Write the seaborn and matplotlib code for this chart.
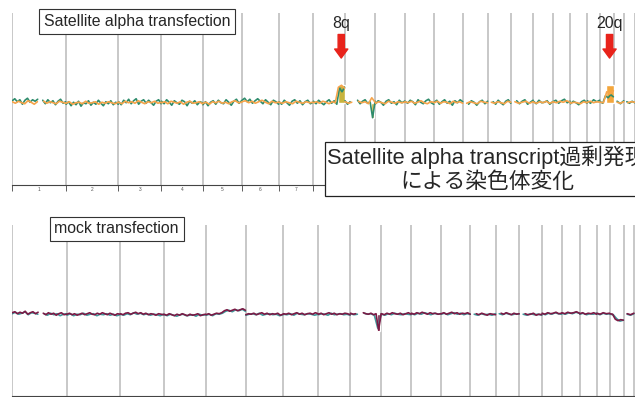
import numpy as np
import pandas as pd
import matplotlib
matplotlib.use('Agg')
import matplotlib.pyplot as plt
import matplotlib.transforms as mtransforms
import seaborn as sns

nan = np.nan

# chromosomes shown along the genome axis (hg19 lengths, Mb)
chrom_names = [str(i) for i in range(1, 23)]
chrom_len_mb = [249, 243, 198, 191, 181, 171, 159, 146, 141, 136, 135, 134,
                115, 107, 103, 90, 81, 78, 59, 63, 48, 51]
# only these labels are visible, the rest sit under the caption box
shown_labels = ['1', '2', '3', '4', '5', '6', '7']

# log2 ratio x100, one list per chromosome (nan = no probes)
sat_green = [
    [4, 8, 2, 6, -3, 5, 9, 1, 6, 3, 7, nan, 5, -2, 6, 0, 4, -4, 3, 7, -1, 2],
    [-3, 2, -6, 1, -4, 3, -7, 0, -2, 4, -5, 1, -3, 5, -1, -6, 2, -2, 4, -4, 1, -3],
    [2, -4, 5, 0, 7, -2, 4, 8, -3, 3, 6, -1, 5, 0, -5, 3, 6, -2],
    [3, -2, 6, 1, -5, 4, 0, -3, 5, 2, -6, 3, -1, 4, -4, 2, 0],
    [-4, 2, -6, 1, 4, -3, 5, 0, -2, 6, 1, -5, 3, 7, -1, 4],
    [5, 9, 2, 7, -1, 4, 8, 3, -2, 6, 1, -4, 5, 2, -3],
    [2, -3, 5, 0, -5, 3, 6, -1, 4, -4, 2, 5, -2, 1],
    [3, -2, 5, 0, -4, 2, 6, -1, 4, -3, 30, 22, 31],
    [4, -3, 2, nan, nan, 5, -2, 3, 6, -1, 2, -30, 3],
    [-2, 4, 1, -5, 3, 6, -1, 2, -4, 5, 0, 3],
    [3, -1, 5, 2, -4, 6, 1, -2, 4, 7, 0, -3],
    [1, 5, -3, 2, 6, -1, 3, -5, 4, 0, 6, 2],
    [nan, nan, -3, 4, 1, -5, 2, 5, -2, 3],
    [nan, nan, 2, -3, 5, 0, -4, 3, 6, -1],
    [nan, nan, 4, -2, 3, 6, -3, 1, 5],
    [3, -2, 5, 0, 1, 4, -3, 2],
    [2, 5, -1, 4, 7, 0, 3],
    [-2, 3, 0, -4, 2, 5, -1],
    [4, -1, 6, 2, 5],
    [2, -1, 14, 10, 16, 12],
    [nan, 3, -2, 4],
    [nan, 2, -1, 3, 0],
]
sat_orange = [
    [2, -1, 3, 0, -2, 4, 1, -3, 2, nan, 3, -1, 2, 0, -2, 3, 1, -1],
    [-1, 2, -3, 0, 1, -2, 3, -1, 0, 2, -3, 1, -1, 2, 0, -2, 1],
    [1, -2, 3, 0, 2, -1, 4, 1, -2, 2, 0, 3, -1, 1],
    [0, 2, -2, 3, 1, -1, 2, -3, 1, 3, -1, 0, 2, -2],
    [-1, 1, -3, 2, 0, 3, -1, 1, -2, 2, 4, 0, 1],
    [2, 4, 0, 3, -1, 2, 5, 1, -2, 3, 0, 1],
    [1, -1, 2, 0, -2, 3, 1, -1, 2, 0, 1],
    [0, 2, -1, 3, 1, -2, 2, 0, 31, 35, 29],
    [2, -1, 1, nan, 3, 0, 2, -2, 10, 1],
    [-1, 2, 0, -2, 3, 1, -1, 2, 0, 1],
    [2, 0, 3, -1, 1, 4, 0, -2, 2, 1],
    [0, 3, -1, 2, 1, -2, 3, 0, 2, -1],
    [nan, -1, 2, 0, -2, 3, 1, 0],
    [nan, 1, -1, 2, 0, -2, 3, 1],
    [nan, 2, -1, 1, 3, -1, 2],
    [1, -1, 2, 0, 3, -1, 1],
    [2, 0, 3, 1, 4, 1],
    [-1, 1, 0, -2, 2, 0],
    [1, 3, 0, 2, 1],
    [1, 0, 22, 18, 24],
    [nan, 1, -1, 2],
    [nan, 0, 2, 1],
]
mock_red = [
    [3, 5, 1, 4, 2, 6, 0, 3, 5, 1, 4, nan, 2, -1, 3, 0, 2, -2, 1, 3, -1, 0],
    [0, 2, -1, 1, -2, 0, 2, -1, 1, 3, 0, -1, 2, 0, 3, 1, -1, 2, 0, -2, 1, 0],
    [1, -1, 2, 3, 0, 2, 4, 1, 3, 0, 2, -1, 1, 0, -2, 1, 0, -1],
    [0, -2, 1, -1, -3, 0, -2, 1, -1, -3, 0, -2, -1, 1, -3, -1, 0],
    [-1, 1, -2, 0, 2, 1, 3, 7, 9, 6, 8, 10, 7, 9, 11, 8],
    [-1, 1, 0, 2, -1, 1, 3, 0, 2, -1, 1, 0, 2, -2, 0],
    [1, 0, 2, -1, 1, 3, 0, 2, -1, 1, 2, 0, 3, 1],
    [0, 2, -1, 1, 3, 0, 2, -1, 1, 0, 2, 1, -1],
    [2, 0, 1, nan, nan, 3, 1, 0, 2, -1, 1, -32, 1],
    [1, -1, 2, 0, 3, 1, 0, 2, -1, 1, 3, 0],
    [2, 0, 3, 1, 4, 2, 0, 3, 1, 2, 0, 1],
    [1, 3, 0, 2, 4, 1, 3, 0, 2, 1, 3, 0],
    [nan, nan, 1, -1, 2, 0, -2, 1, 0, -1],
    [nan, nan, 2, 0, 3, 1, -1, 2, 0, 1],
    [nan, nan, 1, -1, 0, 2, -2, 0, -1],
    [2, 0, 3, 1, 2, 4, 1, 2],
    [3, 1, 4, 2, 3, 5, 2],
    [1, 3, 0, 2, 1, 3, 0],
    [2, 0, 3, 1, 2],
    [1, 0, -10, -13, -11, -12],
    [nan, 1, -1, 2],
    [nan, 0, 2, 1, 0],
]
mock_teal = [
    [1, 4, 0, 2, 5, -1, 3, 2, 0, nan, 1, -2, 2, -1, 1, -3, 0, 1],
    [-2, 1, -3, 0, -1, 2, -2, 0, 1, -3, 0, -1, 1, -2, 0, -3, -1],
    [0, -2, 1, -1, 3, 0, 2, -1, 1, -2, 0, -1, -3, 0],
    [-1, -3, 0, -2, -4, -1, 0, -3, -2, -1, -4, 0, -2, -1],
    [-2, 0, -3, 1, 0, 2, 6, 8, 5, 9, 7, 10, 6],
    [-2, 0, 1, -1, 2, -2, 0, 1, -1, 0, -3, -1],
    [0, -1, 1, -2, 2, 0, -1, 1, 0, -2, 0],
    [-1, 1, 0, -2, 2, -1, 0, 1, -1, 0, -2],
    [1, -1, 0, nan, 2, 0, 1, -2, -28, 0],
    [0, -2, 1, -1, 2, 0, -1, 1, 0, -1],
    [1, -1, 2, 0, 3, 1, -1, 2, 0, 1],
    [0, 2, -1, 1, 3, 0, 2, -1, 1, 0],
    [nan, 0, -2, 1, -1, 0, -2, 1],
    [nan, 1, -1, 2, 0, -1, 1, 0],
    [nan, 0, -2, 1, -1, 0, -2],
    [1, -1, 2, 0, 3, 1, 0],
    [2, 0, 3, 1, 4, 2],
    [0, 2, -1, 1, 0, 2],
    [1, -1, 2, 0, 1],
    [0, -1, -9, -14, -12],
    [nan, 0, -2, 1],
    [nan, -1, 1, 0],
]

# called copy-number segments (chrom, start Mb, end Mb, log2 ratio)
sat_seg_chrom = ['8', '9', '20']
sat_seg_start = [113, 121, 26]
sat_seg_end = [146, 134, 63]
sat_seg_value = [0.36, -0.30, 0.36]
mock_seg_chrom = ['9']
mock_seg_start = [121]
mock_seg_end = [134]
mock_seg_value = [-0.34]

arrow_chrom = ['8', '20']
arrow_label = ['8q', '20q']

chrom_start = np.concatenate([[0], np.cumsum(chrom_len_mb)[:-1]])
chrom_end = np.cumsum(chrom_len_mb)
chrom_mid = chrom_start + np.array(chrom_len_mb) / 2
offset = dict(zip(chrom_names, chrom_start))
mid = dict(zip(chrom_names, chrom_mid))


def to_frame(series):
    rows = []
    seg = 0
    for i, vals in enumerate(series):
        pos = chrom_start[i] + np.linspace(1, chrom_len_mb[i] - 1, len(vals))
        seg += 1
        for p, v in zip(pos, vals):
            if np.isnan(v):
                seg += 1
                continue
            rows.append((p, v / 100, seg))
    return pd.DataFrame(rows, columns=['pos', 'log2', 'seg'])


sns.set_style('white')
plt.rcParams['font.family'] = ['Liberation Sans', 'Noto Sans CJK JP', 'DejaVu Sans']

fig = plt.figure(figsize=(6.35, 3.97), dpi=100)
ax1 = fig.add_axes([12 / 635, 1 - 185 / 397, 623 / 635, 172 / 397])
ax2 = fig.add_axes([12 / 635, 1 - 396 / 397, 623 / 635, 171 / 397])

for ax in (ax1, ax2):
    for s in list(chrom_start) + [chrom_end[-1]]:
        ax.axvline(s, color='#c4c4c4', lw=1.3, zorder=1)
    ax.set_xlim(0, 2832)
    ax.set_ylim(-1.65, 1.8)
    for side in ['top', 'right', 'left']:
        ax.spines[side].set_visible(False)
    ax.spines['bottom'].set_color('#444444')
    ax.spines['bottom'].set_linewidth(0.8)
    ax.set_yticks([])

# top panel: satellite alpha transfection
ax1.bar([offset[c] + s for c, s in zip(sat_seg_chrom, sat_seg_start)], sat_seg_value,
        width=np.array(sat_seg_end) - np.array(sat_seg_start), align='edge',
        color=['#c8b43e', '#c8b43e', '#f3a63c'], zorder=2)
sns.lineplot(data=to_frame(sat_green), x='pos', y='log2', units='seg', estimator=None,
             color='#2e8c6c', lw=1.2, ax=ax1, zorder=3)
sns.lineplot(data=to_frame(sat_orange), x='pos', y='log2', units='seg', estimator=None,
             color='#f6a44a', lw=1.2, ax=ax1, zorder=4)
ax1.set_xlabel('')
ax1.set_ylabel('')
ax1.set_xticks(list(chrom_start) + [chrom_end[-1]])
ax1.set_xticklabels([])
ax1.set_xticks([mid[c] for c in shown_labels], minor=True)
ax1.set_xticklabels(shown_labels, minor=True)
ax1.tick_params(axis='x', which='major', direction='out', length=4, width=0.6,
                color='#444444', bottom=True)
ax1.tick_params(axis='x', which='minor', length=0, labelsize=3.5, pad=1.5,
                labelcolor='#555555')

# bottom panel: mock transfection
ax2.bar([offset[c] + s for c, s in zip(mock_seg_chrom, mock_seg_start)], mock_seg_value,
        width=np.array(mock_seg_end) - np.array(mock_seg_start), align='edge',
        color='#7a1942', zorder=2)
sns.lineplot(data=to_frame(mock_teal), x='pos', y='log2', units='seg', estimator=None,
             color='#3f9a9c', lw=1.2, ax=ax2, zorder=3)
sns.lineplot(data=to_frame(mock_red), x='pos', y='log2', units='seg', estimator=None,
             color='#7c1a45', lw=1.2, ax=ax2, zorder=4)
ax2.set_xlabel('')
ax2.set_ylabel('')
ax2.set_xticks([])

# red arrows pointing at the gained arms
trans = mtransforms.blended_transform_factory(ax1.transData, ax1.transAxes)
for c, lab in zip(arrow_chrom, arrow_label):
    k = sat_seg_chrom.index(c)
    x = offset[c] + (sat_seg_start[k] + sat_seg_end[k]) / 2
    ax1.annotate('', xy=(x, 0.738), xytext=(x, 0.875), xycoords=trans, textcoords=trans,
                 arrowprops=dict(arrowstyle='simple,head_length=0.65,head_width=0.95,tail_width=0.45',
                                 color='#e8231b', mutation_scale=10, shrinkA=0, shrinkB=0),
                 annotation_clip=False)
    ax1.text(x, 0.913, lab, transform=trans, ha='center', va='baseline', fontsize=11.5)

fig.text(137 / 635, 1 - 21.5 / 397, 'Satellite alpha transfection', ha='center', va='center',
         fontsize=11.4, bbox=dict(boxstyle='square,pad=0.3', fc='white', ec='#333333', lw=0.8))
fig.text(116.5 / 635, 1 - 229 / 397, 'mock transfection', ha='center', va='center',
         fontsize=11.4, bbox=dict(boxstyle='square,pad=0.3', fc='white', ec='#333333', lw=0.8))
fig.text(487 / 635, 1 - 169 / 397, 'Satellite alpha transcript過剰発現\nによる染色体変化',
         ha='center', va='center', multialignment='center', fontsize=15.7, linespacing=1.2,
         bbox=dict(boxstyle='square,pad=0.12', fc='white', ec='#222222', lw=0.9), zorder=10)

fig.savefig('out.png', dpi=100)
